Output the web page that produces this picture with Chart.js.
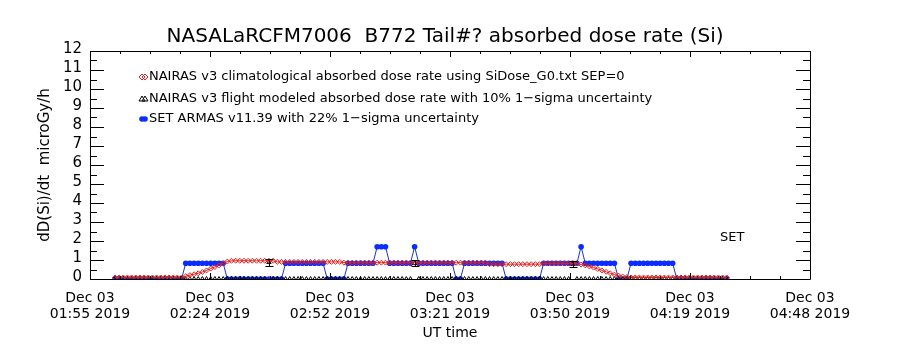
<!DOCTYPE html>
<html>
<head>
<meta charset="utf-8">
<title>B772 absorbed dose rate (Si)</title>
<script src="https://cdn.jsdelivr.net/npm/chart.js@4.4.1/dist/chart.umd.min.js"></script>
<style>
    html, body { margin: 0; padding: 0; background: #ffffff; }
    #wrap { width: 900px; height: 350px; }
</style>
</head>
<body>
<div id="wrap"><canvas id="doseChart" width="900" height="350"></canvas></div>
<script>
// time axis: minutes after Dec 03 2019 01:55 UT, one sample per minute
const startMinute = 6;
const spanMinutes = 173;

const xTickDates = ['Dec 03', 'Dec 03', 'Dec 03', 'Dec 03', 'Dec 03', 'Dec 03', 'Dec 03'];
const xTickTimes = ['01:55 2019', '02:24 2019', '02:52 2019', '03:21 2019', '03:50 2019', '04:19 2019', '04:48 2019'];
const yTicks = [0, 1, 2, 3, 4, 5, 6, 7, 8, 9, 10, 11, 12];

const legendLabels = [
    'NAIRAS v3 climatological absorbed dose rate using SiDose_G0.txt SEP=0',
    'NAIRAS v3 flight modeled absorbed dose rate with 10% 1\u2212sigma uncertainty',
    'SET ARMAS v11.39 with 22% 1\u2212sigma uncertainty'
];

// NAIRAS climatological, microGy/h
const nairasClimo = [
    0.08, 0.08, 0.08, 0.08, 0.08, 0.08, 0.08, 0.08, 0.08, 0.08,
    0.08, 0.08, 0.08, 0.08, 0.08, 0.08, 0.08, 0.15, 0.20, 0.25,
    0.30, 0.37, 0.45, 0.55, 0.63, 0.72, 0.82, 0.92, 0.96, 0.96,
    0.96, 0.96, 0.96, 0.96, 0.96, 0.96, 0.96, 0.96, 0.96, 0.90,
    0.90, 0.90, 0.90, 0.90, 0.90, 0.90, 0.90, 0.90, 0.90, 0.90,
    0.90, 0.90, 0.90, 0.90, 0.90, 0.86, 0.86, 0.86, 0.86, 0.86,
    0.86, 0.86, 0.86, 0.86, 0.86, 0.86, 0.86, 0.86, 0.86, 0.86,
    0.86, 0.86, 0.86, 0.86, 0.86, 0.86, 0.86, 0.86, 0.86, 0.86,
    0.86, 0.86, 0.86, 0.86, 0.86, 0.86, 0.86, 0.86, 0.86, 0.86,
    0.78, 0.78, 0.78, 0.78, 0.78, 0.78, 0.78, 0.78, 0.78, 0.78,
    0.78, 0.78, 0.78, 0.82, 0.82, 0.82, 0.82, 0.82, 0.82, 0.82,
    0.82, 0.82, 0.76, 0.72, 0.66, 0.60, 0.53, 0.45, 0.38, 0.30,
    0.23, 0.18, 0.13, 0.10, 0.08, 0.08, 0.08, 0.08, 0.08, 0.08,
    0.08, 0.08, 0.08, 0.08, 0.08, 0.08, 0.08, 0.08, 0.08, 0.08,
    0.08, 0.08, 0.08, 0.08, 0.08, 0.08, 0.08, 0.08
];

// NAIRAS flight modeled (0 where no model output) and its uncertainty
const flightDose = [
    0, 0, 0, 0, 0, 0, 0, 0, 0, 0,
    0, 0, 0, 0, 0, 0, 0, 0, 0, 0,
    0, 0, 0, 0, 0, 0, 0, 0, 0, 0,
    0, 0, 0, 0, 0, 0, 0, 0.88, 0, 0,
    0, 0, 0, 0, 0, 0, 0, 0, 0, 0,
    0, 0, 0, 0, 0, 0, 0, 0, 0, 0,
    0, 0, 0, 0, 0, 0, 0, 0, 0, 0,
    0, 0, 0.83, 0, 0, 0, 0, 0, 0, 0,
    0, 0, 0, 0, 0, 0, 0, 0, 0, 0,
    0, 0, 0, 0, 0, 0, 0, 0, 0, 0,
    0, 0, 0, 0, 0, 0, 0, 0, 0, 0,
    0.79, 0, 0, 0, 0, 0, 0, 0, 0, 0,
    0, 0, 0, 0, 0, 0, 0, 0, 0, 0,
    0, 0, 0, 0, 0, 0, 0, 0, 0, 0,
    0, 0, 0, 0, 0, 0, 0, 0
];
const flightErr = [0.17, 0.17, 0.17];

// SET ARMAS measured
const armasDose = [
    0, 0, 0, 0, 0, 0, 0, 0, 0, 0,
    0, 0, 0, 0, 0, 0, 0, 0.83, 0.83, 0.83,
    0.83, 0.83, 0.83, 0.83, 0.83, 0.83, 0.83, 0, 0, 0,
    0, 0, 0, 0, 0, 0, 0, 0, 0, 0,
    0, 0.83, 0.83, 0.83, 0.83, 0.83, 0.83, 0.83, 0.83, 0.83,
    0.83, 0, 0, 0, 0, 0, 0.83, 0.83, 0.83, 0.83,
    0.83, 0.83, 0.83, 1.70, 1.70, 1.70, 0.83, 0.83, 0.83, 0.83,
    0.83, 0.83, 1.70, 0.83, 0.83, 0.83, 0.83, 0.83, 0.83, 0.83,
    0.83, 0.83, 0, 0, 0.83, 0.83, 0.83, 0.83, 0.83, 0.83,
    0.83, 0.83, 0.83, 0.83, 0, 0, 0, 0, 0, 0,
    0, 0, 0, 0.83, 0.83, 0.83, 0.83, 0.83, 0.83, 0.83,
    0.83, 0.83, 1.70, 0.83, 0.83, 0.83, 0.83, 0.83, 0.83, 0.83,
    0.83, 0, 0, 0, 0.83, 0.83, 0.83, 0.83, 0.83, 0.83,
    0.83, 0.83, 0.83, 0.83, 0.83, 0, 0, 0, 0, 0,
    0, 0, 0, 0, 0, 0, 0, 0
];

const FONT = 'DejaVu Sans';

function toPoints(values) {
    return values.map((v, i) => ({ x: startMinute + i, y: v }));
}

// box with inward ticks on all four sides
const frameTicks = {
    id: 'frameTicks',
    afterDatasetsDraw(chart) {
        const { ctx, chartArea: a, scales } = chart;
        const xs = scales.x, ys = scales.y;
        ctx.save();
        ctx.strokeStyle = '#000';
        ctx.lineWidth = 1;
        ctx.beginPath();
        ctx.rect(a.left + 0.5, a.top + 0.5, a.right - a.left, a.bottom - a.top);
        for (let v = 0; v <= 12; v += 0.5) {
            const y = Math.round(ys.getPixelForValue(v)) + 0.5;
            const len = Number.isInteger(v) ? 14 : 7;
            ctx.moveTo(a.left, y); ctx.lineTo(a.left + len, y);
            ctx.moveTo(a.right, y); ctx.lineTo(a.right - len, y);
        }
        const step = spanMinutes / 24;
        for (let k = 0; k <= 24; k++) {
            const x = Math.round(xs.getPixelForValue(k * step)) + 0.5;
            const len = k % 4 === 0 ? 6 : 3;
            ctx.moveTo(x, a.bottom); ctx.lineTo(x, a.bottom - len);
            ctx.moveTo(x, a.top); ctx.lineTo(x, a.top + len);
        }
        ctx.stroke();
        ctx.restore();
    }
};

// error bars on the flight modeled points
const errorBars = {
    id: 'errorBars',
    afterDatasetsDraw(chart) {
        const { ctx, scales } = chart;
        let k = 0;
        ctx.save();
        ctx.strokeStyle = '#000';
        ctx.lineWidth = 1;
        flightDose.forEach((v, i) => {
            if (v <= 0) return;
            const err = flightErr[k++];
            const x = Math.round(scales.x.getPixelForValue(startMinute + i)) + 0.5;
            const y0 = Math.round(scales.y.getPixelForValue(v - err)) + 0.5;
            const y1 = Math.round(scales.y.getPixelForValue(v + err)) + 0.5;
            ctx.beginPath();
            ctx.moveTo(x, y0); ctx.lineTo(x, y1);
            ctx.moveTo(x - 4, y0); ctx.lineTo(x + 4, y0);
            ctx.moveTo(x - 4, y1); ctx.lineTo(x + 4, y1);
            ctx.stroke();
        });
        ctx.restore();
    }
};

// title, in-plot legend and the SET tag
const annotations = {
    id: 'annotations',
    afterDraw(chart) {
        const { ctx } = chart;
        ctx.save();
        ctx.fillStyle = '#000';
        ctx.textBaseline = 'middle';
        ctx.textAlign = 'center';
        ctx.font = '20px "' + FONT + '"';
        ctx.fillText('NASALaRCFM7006  B772 Tail#? absorbed dose rate (Si)', 445, 37);

        ctx.textAlign = 'left';
        ctx.font = '13px "' + FONT + '"';
        const rows = [77, 99, 119];
        rows.forEach((y, i) => ctx.fillText(legendLabels[i], 149, y));

        // legend symbols
        ctx.lineWidth = 1;
        ctx.strokeStyle = '#e02020';
        [142, 145].forEach(x => {
            ctx.beginPath();
            ctx.moveTo(x, rows[0] - 3); ctx.lineTo(x + 3, rows[0]);
            ctx.lineTo(x, rows[0] + 3); ctx.lineTo(x - 3, rows[0]);
            ctx.closePath(); ctx.stroke();
        });
        ctx.strokeStyle = '#000';
        [142, 145].forEach(x => {
            ctx.beginPath();
            ctx.moveTo(x, rows[1] - 3); ctx.lineTo(x + 3, rows[1] + 2);
            ctx.lineTo(x - 3, rows[1] + 2); ctx.closePath(); ctx.stroke();
        });
        ctx.fillStyle = '#0a2cff';
        [142, 145].forEach(x => {
            ctx.beginPath(); ctx.arc(x, rows[2], 2.8, 0, Math.PI * 2); ctx.fill();
        });

        ctx.fillStyle = '#000';
        ctx.font = '13px "' + FONT + '"';
        ctx.fillText('SET', 720, 238);
        ctx.restore();
    }
};

const ctx = document.getElementById('doseChart').getContext('2d');
new Chart(ctx, {
    type: 'line',
    data: {
        datasets: [
            {
                label: legendLabels[0],
                data: toPoints(nairasClimo),
                borderColor: '#e02020',
                borderWidth: 1,
                pointStyle: 'rectRot',
                pointRadius: 2.5,
                pointBorderColor: '#e02020',
                pointBackgroundColor: 'rgba(0,0,0,0)',
                pointBorderWidth: 1,
                tension: 0
            },
            {
                label: legendLabels[1],
                data: toPoints(flightDose),
                showLine: false,
                pointStyle: 'triangle',
                pointRadius: 2.5,
                pointBorderColor: '#000',
                pointBackgroundColor: 'rgba(0,0,0,0)',
                pointBorderWidth: 1
            },
            {
                label: legendLabels[2],
                data: toPoints(armasDose),
                borderColor: '#1535c8',
                borderWidth: 1,
                pointStyle: 'circle',
                pointRadius: 2.8,
                pointBorderWidth: 0,
                pointBackgroundColor: '#0a2cff',
                tension: 0
            }
        ]
    },
    options: {
        responsive: false,
        animation: false,
        layout: { padding: { left: 0, right: 90, top: 51, bottom: 0 } },
        plugins: {
            legend: { display: false },
            title: { display: false },
            tooltip: { enabled: false }
        },
        scales: {
            x: {
                type: 'linear',
                min: 0,
                max: spanMinutes,
                afterBuildTicks: scale => {
                    scale.ticks = xTickTimes.map((t, i) => ({ value: i * spanMinutes / 6 }));
                },
                afterFit: scale => { scale.height = 71; },
                grid: { display: false, drawTicks: false },
                border: { display: false },
                ticks: {
                    autoSkip: false,
                    maxRotation: 0,
                    padding: 12,
                    color: '#000',
                    font: { family: FONT, size: 14, lineHeight: 1.1 },
                    callback: (value, index) => [xTickDates[index], xTickTimes[index]]
                },
                title: {
                    display: true,
                    text: 'UT time',
                    color: '#000',
                    font: { family: FONT, size: 14 },
                    padding: { top: 8, bottom: 8 }
                }
            },
            y: {
                min: 0,
                max: 12,
                afterBuildTicks: scale => {
                    scale.ticks = yTicks.map(v => ({ value: v }));
                },
                afterFit: scale => { scale.width = 90; },
                grid: { display: false, drawTicks: false },
                border: { display: false },
                ticks: {
                    autoSkip: false,
                    padding: 8,
                    labelOffset: -2,
                    color: '#000',
                    font: { family: FONT, size: 15 }
                },
                title: {
                    display: true,
                    text: 'dD(Si)/dt  microGy/h',
                    color: '#000',
                    font: { family: FONT, size: 15 },
                    padding: { top: 36, bottom: 0 }
                }
            }
        }
    },
    plugins: [frameTicks, errorBars, annotations]
});
</script>
</body>
</html>
